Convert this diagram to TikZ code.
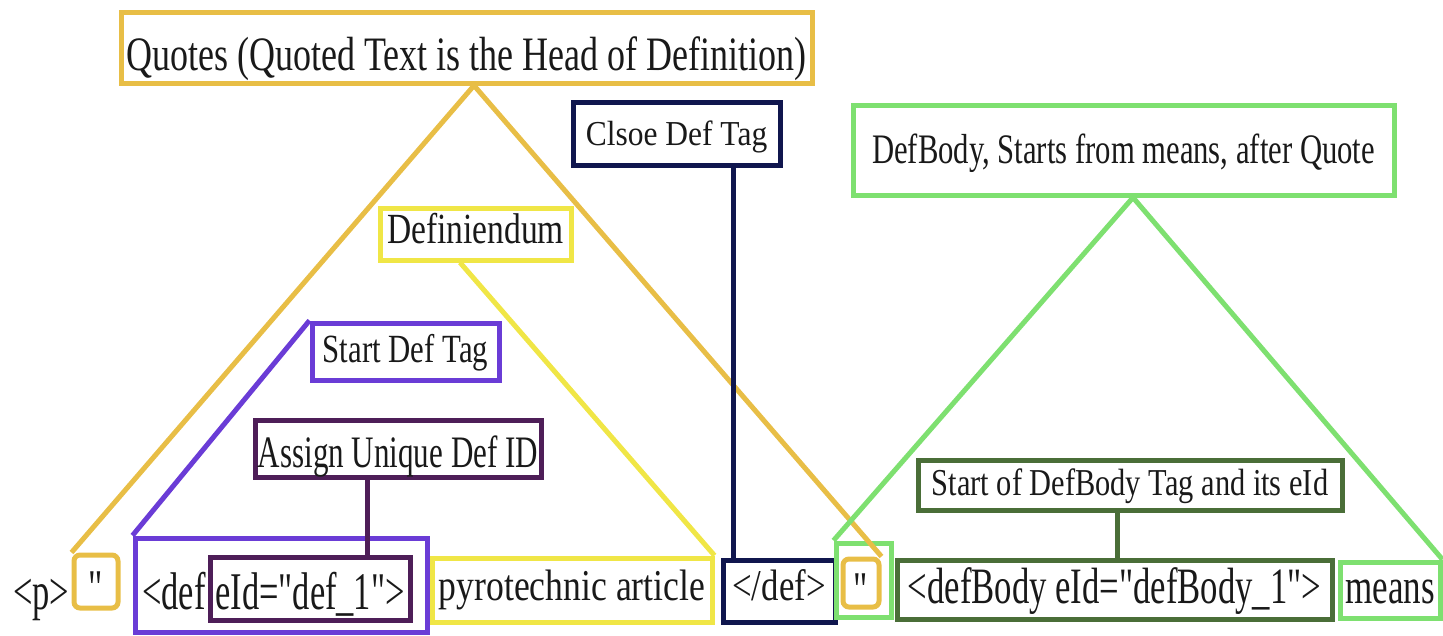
\documentclass[tikz,border=0pt]{standalone}
\usepackage{fontspec}
\setmainfont{Liberation Serif}[Ligatures=TeXOff]
\definecolor{gold}{RGB}{232,190,70}
\definecolor{yel}{RGB}{240,230,70}
\definecolor{navy}{RGB}{16,22,78}
\definecolor{lgreen}{RGB}{126,224,112}
\definecolor{dgreen}{RGB}{74,110,56}
\definecolor{purp}{RGB}{106,60,214}
\definecolor{dpurp}{RGB}{78,30,88}
\definecolor{ink}{RGB}{25,25,25}
\newcommand\fs[2]{\fontsize{#1}{#1}\selectfont\addfontfeature{FakeStretch=#2}}
\begin{document}
\begin{tikzpicture}[x=1pt,y=-1pt,
  bx/.style={draw, line width=5pt, inner sep=0pt, text=ink},
  bh/.style={text height=#1, text depth=0pt},
  ln/.style={line width=5pt}]
\useasboundingbox (0,0) rectangle (1443,635);

% top / middle labels
\node[bx, draw=gold, bh=45pt, minimum width=691, minimum height=71, font=\fs{48}{0.75}] (quotes) at (466.5,47.5) {Quotes (Quoted Text is the Head of Definition)};
\node[bx, draw=navy, bh=23pt, minimum width=207, minimum height=63, font=\fs{35}{0.9}] (close) at (676.5,133.5) {Clsoe Def Tag};
\node[bx, draw=lgreen, bh=26pt, minimum width=541, minimum height=90, font=\fs{42}{0.73}] (defbody) at (1123.5,150) {DefBody, Starts from means, after Quote};
\node[bx, draw=yel, bh=18pt, minimum width=191, minimum height=52, font=\fs{43}{0.78}] (defin) at (475.5,234) {Definiendum};
\node[bx, draw=purp, bh=21pt, minimum width=187, minimum height=57, font=\fs{40}{0.77}] (startdef) at (405.5,351.5) {Start Def Tag};
\node[bx, draw=dpurp, bh=37pt, minimum width=286, minimum height=57, font=\fs{45}{0.69}] (assign) at (398,448.5) {Assign Unique Def ID};
\node[bx, draw=dgreen, bh=20pt, minimum width=424, minimum height=50, font=\fs{38}{0.8}] (startbody) at (1130,485) {Start of DefBody Tag and its eId};

% bottom row
\node[font=\fs{53}{0.65}, text=ink, anchor=base west, inner sep=0pt] (ptag) at (13,609) {<p>};
\node[bx, draw=gold, bh=45pt, rounded corners=6pt, minimum width=44, minimum height=53, font=\fs{50}{0.7}] (q1) at (96,581.5) {"};
\node[bx, draw=purp, minimum width=292, minimum height=94] (defbox) at (281,585) {};
\node[font=\fs{53}{0.65}, text=ink, anchor=base west, inner sep=0pt] (defword) at (142,609) {<def};
\node[bx, draw=dpurp, bh=41pt, minimum width=200, minimum height=63, font=\fs{53}{0.65}] (eid) at (310,588.5) {eId="def\_1">};
\node[bx, draw=yel, bh=20pt, minimum width=280, minimum height=64, font=\fs{44}{0.81}] (pyro) at (572,590) {pyrotechnic article};
\node[bx, draw=navy, bh=18pt, minimum width=112, minimum height=62, font=\fs{44}{0.79}] (closetag) at (779,591) {</def>};
\node[bx, draw=lgreen, minimum width=55, minimum height=74] (q2green) at (863.5,580) {};
\node[bx, draw=gold, bh=47pt, rounded corners=6pt, minimum width=36, minimum height=48, font=\fs{50}{0.7}] (q2) at (861,583) {"};
\node[bx, draw=dgreen, bh=27pt, minimum width=435, minimum height=59, font=\fs{51}{0.68}] (defbodytag) at (1114.5,589.5) {<defBody eId="defBody\_1">};
\node[bx, draw=lgreen, bh=26pt, minimum width=100, minimum height=56, font=\fs{50}{0.7}] (means) at (1390,590) {means};

% connectors
\coordinate (dp) at (367,0);
\coordinate (nv) at (733,0);
\coordinate (dg) at (1117,0);
\draw[ln, gold] ([xshift=7.5pt]quotes.south) -- (q1.north west);
\draw[ln, gold] ([xshift=7.5pt]quotes.south) -- (q2.north east);
\draw[ln, yel] ([xshift=-15.5pt]defin.south) -- (pyro.north east);
\draw[ln, purp] (startdef.north west) -- (defbox.north west);
\draw[ln, dpurp] (assign.south -| dp) -- (eid.north -| dp);
\draw[ln, navy] (close.south -| nv) -- (closetag.north -| nv);
\draw[ln, lgreen] ([xshift=9.5pt]defbody.south) -- (q2green.north west);
\draw[ln, lgreen] ([xshift=9.5pt]defbody.south) -- (means.north east);
\draw[ln, dgreen] (startbody.south -| dg) -- (defbodytag.north -| dg);
\end{tikzpicture}
\end{document}
